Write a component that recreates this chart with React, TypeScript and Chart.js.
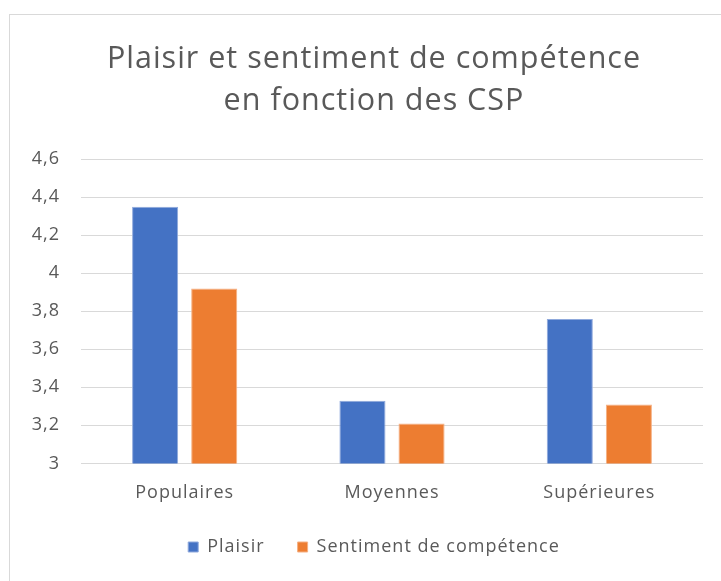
import React, { useEffect, useRef } from "react";
import { Chart, registerables } from "chart.js";

Chart.register(...registerables);

const categories = ["Populaires", "Moyennes", "Supérieures"];
const plaisir = [4.35, 3.33, 3.76];
const sentiment = [3.92, 3.21, 3.31];
const seriesNames = ["Plaisir", "Sentiment de compétence"];
const titleLines = ["Plaisir et sentiment de compétence", "en fonction des CSP"];
const yMin = 3;
const yMax = 4.6;
const yStep = 0.2;

const spacingPlugin = {
  id: "letterSpacing",
  beforeLayout(chart: any) {
    chart.ctx.letterSpacing = "1px";
  },
  beforeDraw(chart: any) {
    chart.ctx.letterSpacing = "1px";
  },
};

export default function App() {
  const ref = useRef<HTMLCanvasElement | null>(null);

  useEffect(() => {
    document.documentElement.style.overflow = "hidden";
    document.body.style.overflow = "hidden";
    if (!ref.current) return;
    const chart = new Chart(ref.current, {
      type: "bar",
      plugins: [spacingPlugin],
      data: {
        labels: categories,
        datasets: [
          {
            label: seriesNames[0],
            data: plaisir,
            backgroundColor: "#4472C4",
            borderColor: "#8FA9DC",
            borderWidth: 1,
            categoryPercentage: 0.57,
            barPercentage: 0.78,
          },
          {
            label: seriesNames[1],
            data: sentiment,
            backgroundColor: "#ED7D31",
            borderColor: "#F5B083",
            borderWidth: 1,
            categoryPercentage: 0.57,
            barPercentage: 0.78,
          },
        ],
      },
      options: {
        animation: false,
        responsive: true,
        maintainAspectRatio: false,
        layout: { padding: { top: 23, left: 0, right: 19, bottom: 16 } },
        plugins: {
          title: {
            display: true,
            text: titleLines,
            color: "#595959",
            font: { family: "'Open Sans'", size: 30.5, weight: "normal", lineHeight: 1.38 },
            padding: { top: 0, bottom: 37 },
          },
          legend: {
            position: "bottom",
            labels: {
              boxWidth: 10,
              boxHeight: 10,
              padding: 33,
              color: "#595959",
              font: { family: "'Open Sans'", size: 18 },
            },
          },
          tooltip: { enabled: false },
        },
        scales: {
          x: {
            grid: { display: false, drawTicks: false },
            border: { display: false },
            afterFit: (scale: any) => {
              scale.height = scale.height - 18;
            },
            ticks: {
              color: "#595959",
              font: { family: "'Open Sans'", size: 18 },
              padding: 19,
            },
          },
          y: {
            min: yMin,
            max: yMax,
            grid: { color: "#D9D9D9", lineWidth: 1, drawTicks: false },
            border: { display: false },
            afterFit: (scale: any) => {
              scale.width = 71;
            },
            ticks: {
              stepSize: yStep,
              color: "#595959",
              font: { family: "'Open Sans'", size: 18 },
              padding: 21,
              callback: (v: any) => String(Math.round(Number(v) * 10) / 10).replace(".", ","),
            },
          },
          yRight: {
            type: "linear",
            axis: "y",
            position: "right",
            min: yMin,
            max: yMax,
            grid: { display: false, drawTicks: false },
            border: { display: false },
            ticks: { display: false },
            afterFit: (scale: any) => {
              scale.width = 35;
            },
          },
        },
      },
    });
    return () => chart.destroy();
  }, []);

  return (
    <div
      style={{
        position: "absolute",
        left: 9,
        top: 14,
        width: 800,
        height: 640,
        border: "1px solid #D9D9D9",
        background: "#fff",
      }}
    >
      <div style={{ position: "absolute", left: 0, top: 0, width: 747, height: 567 }}>
        <canvas ref={ref} />
      </div>
    </div>
  );
}
